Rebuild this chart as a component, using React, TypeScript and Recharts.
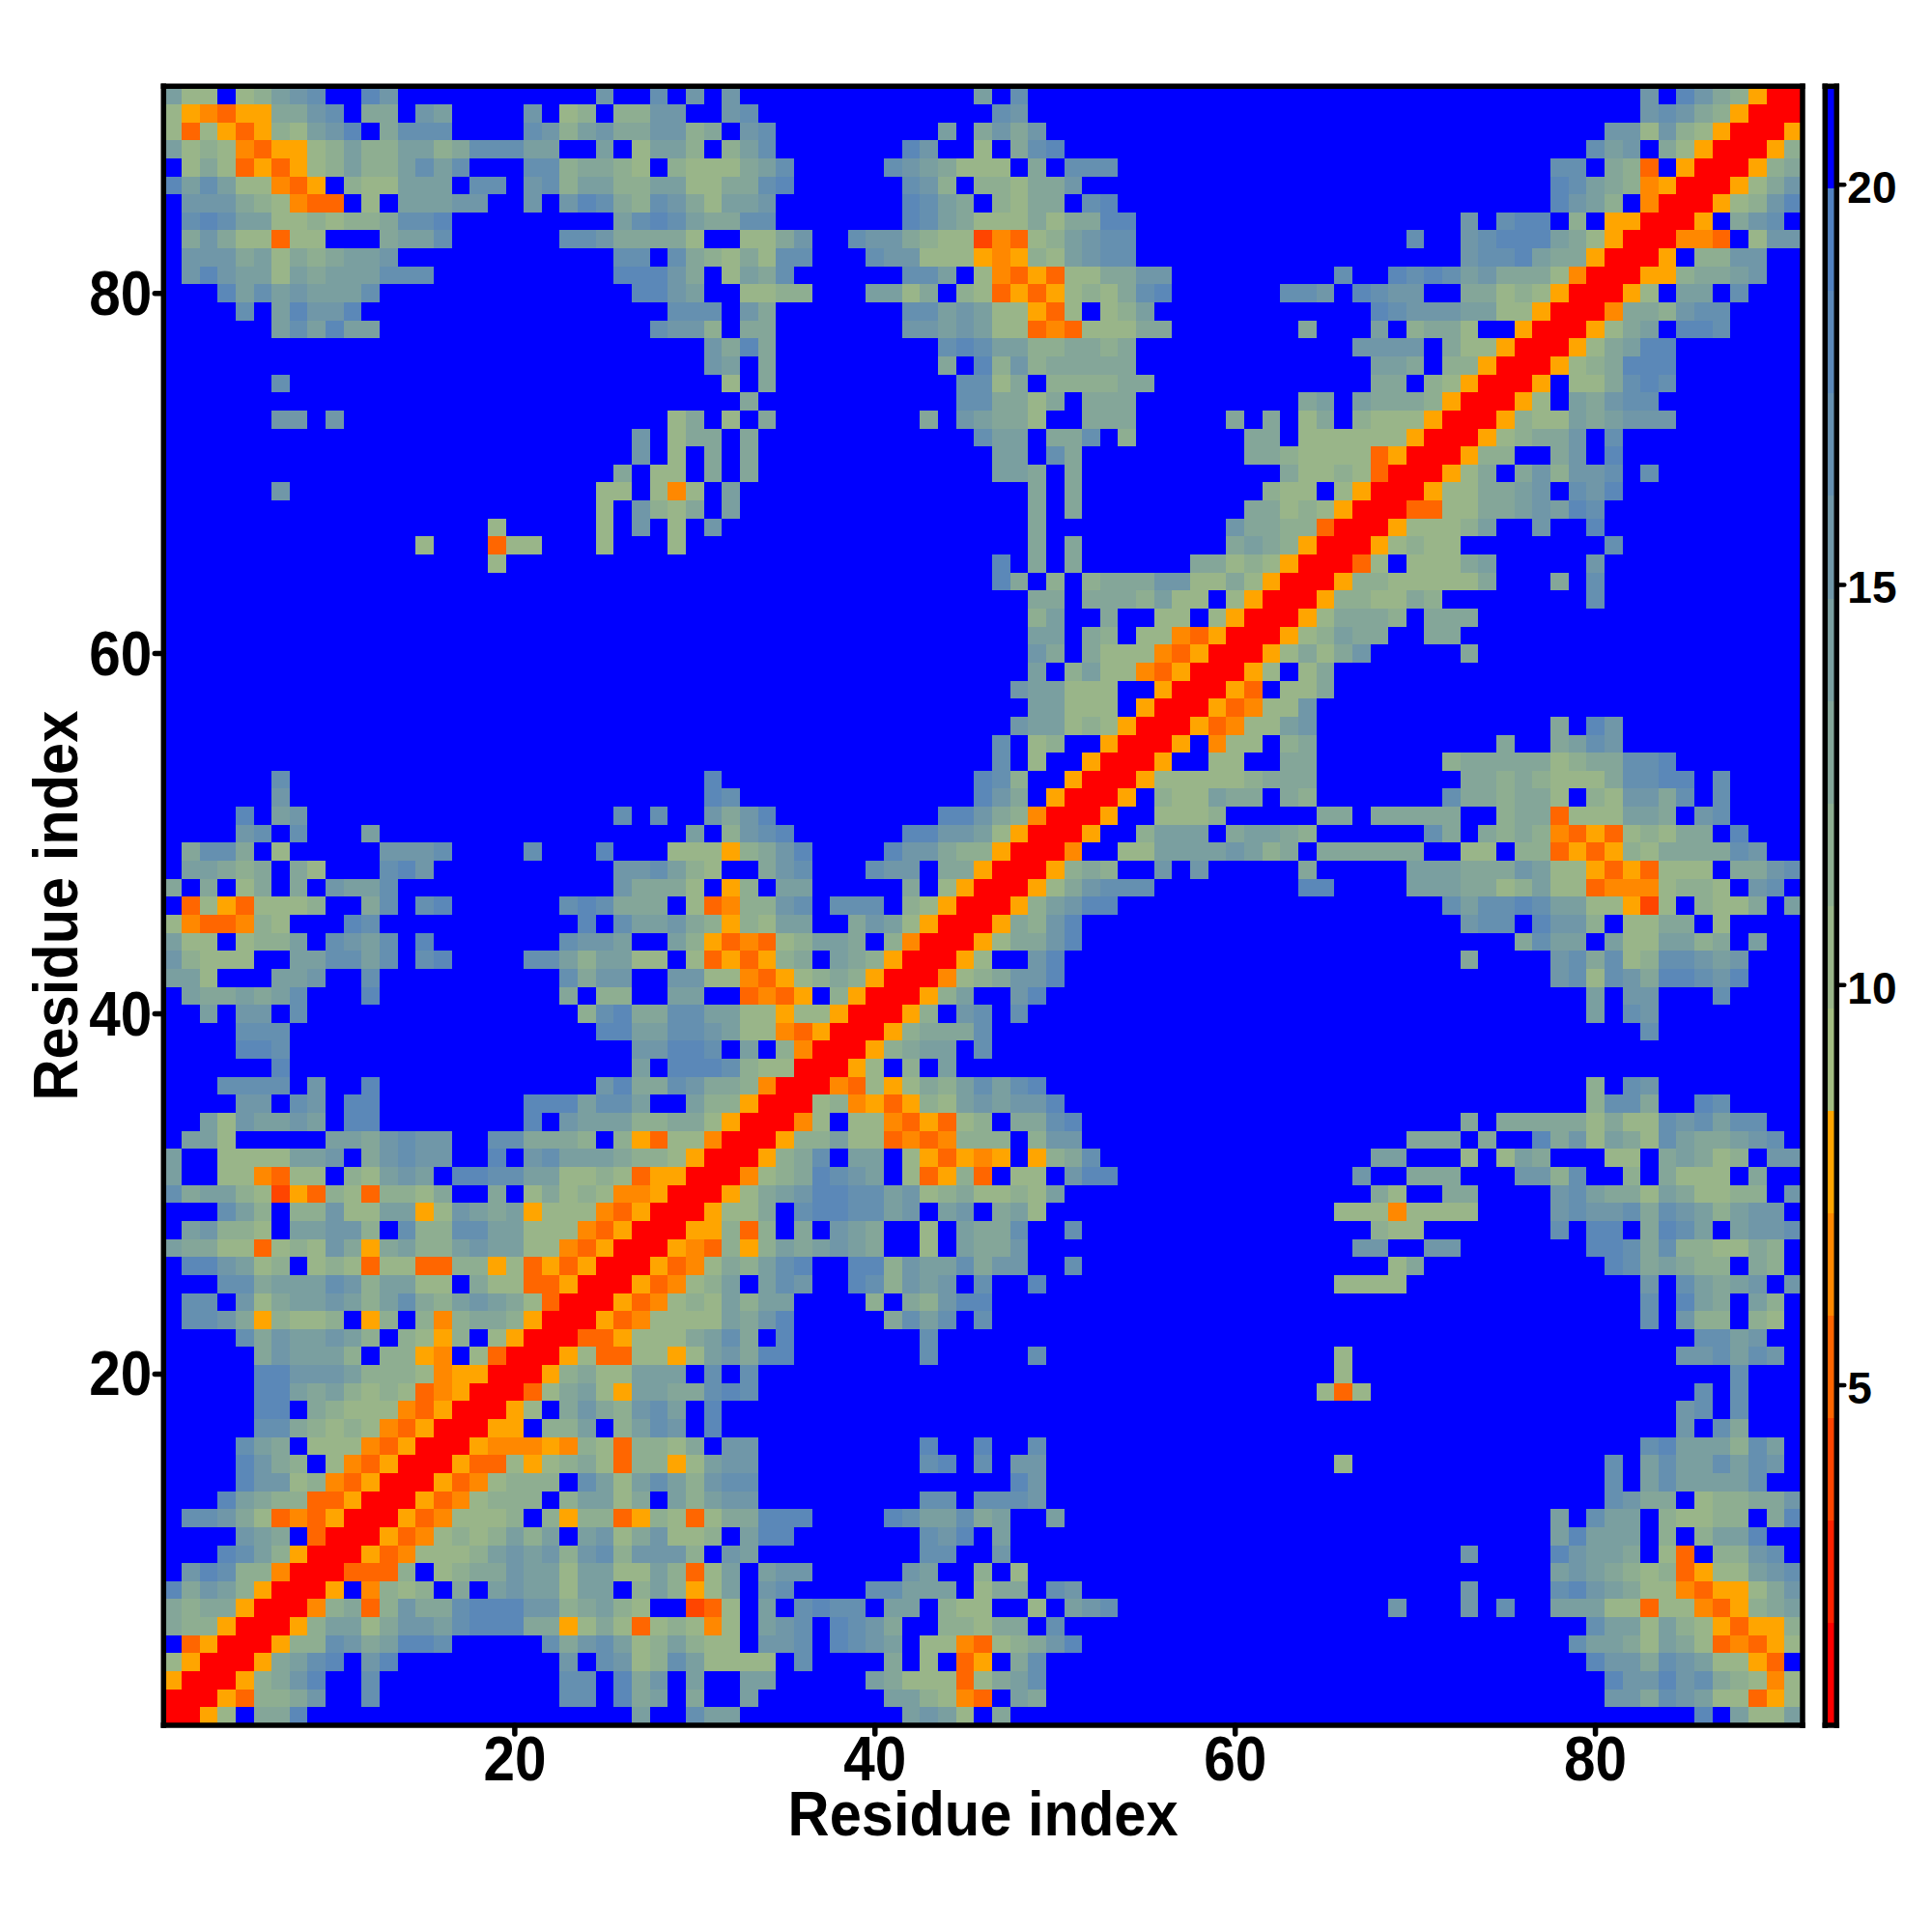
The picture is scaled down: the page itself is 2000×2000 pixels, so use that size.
import { ScatterChart, Scatter, XAxis, YAxis } from 'recharts';

// Residue-residue distance map, 91 x 91, symmetric.
// One string per residue (row 1 first), holding columns 1..row. Each char is the
// colour band of the cell: 0-e are bands, "." is the top band, [n] is a run of n "." cells.
const distanceRows = [
  '0',
  '00',
  '500',
  '7500',
  '.3500',
  '988500',
  '9899500',
  'd9ba8500',
  '.bdc88400',
  '...dca8500',
  '....ba9.300',
  '.ccb97343500',
  '...da98833500',
  '....dbb7843500',
  '....db98.743500',
  '....ca9.77743500',
  '.....cc9878743500',
  '.....dd.9877743500',
  '.....dda9a878734500',
  '.....ddbbba888745500',
  '.....9baaa8.8854.7300',
  '....c9baaba8.8758.7500',
  '.ccb958778.58.848998500',
  '.cc.b79aaba8ac98aba97300',
  '...cc9aaacb8aa77.97733500',
  '.ddba78.787377338857353500',
  'a99773787b959a88abaa7743500',
  '.ab887.aabb8.c88ccaa77743500',
  '...ca8.88b77aa57ba9a577743500',
  'c9aa872538738879..9.7978744500',
  'a..774377.87aba.ddccaa778735500',
  'a..7777aab.9bcbb..d.bcaaa9887500',
  '.aa7.....aa9bcbb..cc9998.85377400',
  '..a7baaba.dd[8]d.baaa88997500',
  '....bb.cb.dd[8]dddacca..a88500',
  '...cccc.b..d[12]bd99cb998400',
  '......d[19]a.dddc87700',
  '....ddc[19]bbddc.a.8400',
  '....ccc[17]ddaaccba7743500',
  '..a.bb.c[15]8cd99ccaa77577500',
  '.a99a9ac...d[10]9.88..aa..3435.8500',
  'aa7...aab..c[10]c9bb..bb774357898500',
  'b8777..aaccac.cd....cca8aa77.7353589.a98500',
  'a77.788a.cbac.d[7]cbba..a8534378aa9.8400',
  '7433487...dc[11]d.caab98587aa..9ba7500',
  '.37537778..9c.cd[6]cdc999.73488bc.ccc.87500',
  '9.9.79.9.baac[12]b9997.58.aa[5]9.7500',
  '.aa989.97...cdb[10]bbca87..9bc...cbb.99500',
  '.9cc9.7.....bbbc....c...d...777589bd....dbb988500',
  '....bc.c...a[17]a.8bcd[6]ddbba7500',
  '....d.ab[17]c.c..b9bd[9]ddb98400',
  '......b[23]dc[13]db9.500',
  '......c[23]d[14]dc8..500',
  '[46]c.7..500',
  '[46]c.78..500',
  '[47]baa787500',
  '[48]aa777.500',
  '[47]baa777..500',
  '[48]a.8a7743500',
  '[48]b9.977743500',
  '[48]aa.98.7743500',
  '[48]8a..9..77.7500',
  '[48]99.9998a77.7500',
  '[46]d9.8.8999bb7797500',
  '[18]7[27]d.9.9[6]99787500',
  '[14]7...377...7...7[19]9.9[8]9a98500',
  '[18]7[5]7.b.7.b[17]9[10]b9988300',
  '[24]7.b879.a[16]9.9[9]99787500',
  '[6]b[17]77.747.a[16]9.9[10]877.7500',
  '[25]9.77.9.9[13]aa9.9[11]97787300',
  '[26]b.7.9.9[13]aa.c9[9]99877773500',
  '[26]b.799.9[12]caa.99c.8[6]99.777777500',
  '[6]bb.b[18]79.7.9[8]9.ba997..999[5]9.9.79.8777500',
  '[32]9[11]cc9979.999[9]9a.a9998500',
  '[6]c[24]7.9[10]cc79.888899[12]99.87500',
  '[30]ba.9[9]9.d8b899999[13]aa9.88500',
  '[30]b9d9[9]cdcaa889989[12]bbbb.977500',
  '[6]acadaa[15]cbb8.99[7]bbaba7734377799[7]9...a.8997..500',
  '....c.adbbd[17]ccc.b9[7]ccaba77537.78a[12]dcbbbaa77500',
  '...dacabaaac[14]ddba..7788...aa79.8735357879cd[6]ccb.dcbb..99787500',
  '.bdbaa7a9aaaccc[10]dddb9.7a9c[6]cca.743537799bb[9]c..dcdcab9997400',
  '.bbb9a7989aab[12]cc.c98797cc...cbb77754587abcc[18]bccda99500',
  '.9b977377...9aac[6]ccb99997..779b..cbb987724378abcc[15]c..bcddda97500',
  '.cdcaa7787889ccd[9]acdca99cc[7]dca97779799dd[18]b.cdd.8.5500',
  '.bbb987433.7.aaabb..b.bdc98cb97aab[7]dca9.8799.cd[24]dba8.400',
  'daca77435.877aaa.cc.bc8aa88aa7799cd[6]cb8.88799b[26]dca984500',
  '.797353578a88acac...cc89987.87779ac[5]cba9777.9.ccc[24]cc.983.500',
  'a787435578a88aa89cccaa..a.7aa8.8ac[7]db..7.9cd[29]cab.97500',
  '73753587abd.9ccc....cb8ab99bb89.bc[9]a.9b9b[31]bb7b87500',
  '75435599bc.99.ba....b.78.88bb..bc[13]cb[34]bcb98500',
  'a77.78abc..db[11]b..c.b.b[13]a.c[34]b.db98500',
];

// Centre of each colour band, in distance units, and the colour of the band.
const bandCentres = [1.39, 2.67, 3.95, 5.23, 6.51, 7.79, 9.07, 10.35, 11.63, 12.91, 14.19, 15.47, 16.75, 18.03, 19.31, 20.59];
const bandColors = [
  '#ff0000', '#ff2200', '#ff4500', '#ff6600', '#ff8800', '#ffa500',
  '#a3bd81', '#99b589', '#8eae91', '#84a699', '#7a9fa0', '#7097a8', '#6590b0', '#5b88b8', '#5181c0',
  '#0000ff',
];
const residueTicks = [20, 40, 60, 80];
const colorbarTicks = [5, 10, 15, 20];
const axisTitle = 'Residue index';

const RESIDUES = 91;
const PLOT_SIZE = 1696.7;
const CELL = PLOT_SIZE / RESIDUES;
const BAND_HEIGHT = PLOT_SIZE / bandCentres.length;
const BAR_WIDTH = 12;

const expandRow = (row: string) => row.replace(/\[(\d+)\]/g, (_, n) => '.'.repeat(Number(n)));

const bandOf = (ch: string) => (ch === '.' ? 15 : parseInt(ch, 16));

const buildCells = () => {
  const bands: number[][] = [];
  for (let i = 0; i < RESIDUES; i++) bands.push(new Array(RESIDUES).fill(15));
  distanceRows.forEach((row, y) => {
    expandRow(row).split('').forEach((ch, x) => {
      bands[y][x] = bandOf(ch);
      bands[x][y] = bandOf(ch);
    });
  });
  const cells: { x: number; y: number; band: number }[] = [];
  bands.forEach((r, y) => r.forEach((band, x) => cells.push({ x: x + 1, y: y + 1, band })));
  return cells;
};

const cells = buildCells();
const barBands = bandCentres.map((y, band) => ({ x: 0.5, y, band }));
const anchorPoint = [{ x: 1, y: 1 }];

const CellShape = (props: any) => (
  <rect
    x={props.cx - CELL / 2}
    y={props.cy - CELL / 2}
    width={CELL}
    height={CELL}
    fill={bandColors[props.payload.band]}
    shapeRendering="crispEdges"
  />
);

const BandShape = (props: any) => (
  <rect
    x={props.cx - BAR_WIDTH / 2}
    y={props.cy - BAND_HEIGHT / 2}
    width={BAR_WIDTH}
    height={BAND_HEIGHT}
    fill={bandColors[props.payload.band]}
    shapeRendering="crispEdges"
  />
);

const NoShape = () => <g />;

const font = { fontWeight: 700, fontFamily: 'Liberation Sans', fill: '#000' };
const frame = { stroke: '#000', strokeWidth: 5.5, strokeLinecap: 'square' as const };
const tickMark = { stroke: '#000', strokeWidth: 5.5, strokeLinecap: 'round' as const };

// the big labels are narrower than the font, so they get a fixed length
const BottomTick = ({ x, y, payload }: any) => (
  <text x={x} y={y + 45} textAnchor="middle" fontSize={64} textLength={65} lengthAdjust="spacingAndGlyphs" {...font}>
    {payload.value}
  </text>
);
const LeftTick = ({ x, y, payload }: any) => (
  <text x={x} y={y + 22} textAnchor="end" fontSize={64} textLength={65} lengthAdjust="spacingAndGlyphs" {...font}>
    {payload.value}
  </text>
);
const BarTick = ({ x, y, payload }: any) => (
  <text x={x} y={y + 19} textAnchor="start" fontSize={46} {...font}>
    {payload.value}
  </text>
);

const mapMargin = { left: 169.3, top: 89.3, right: 134, bottom: 214 };
const axisMapMargin = { left: 168.3, top: 88.3, right: 133, bottom: 213 };
const barMargin = { left: 1889.3, top: 89.3, right: 98.7, bottom: 214 };
const axisBarMargin = { left: 1888.3, top: 88.3, right: 97.7, bottom: 213 };

const residueDomain: [number, number] = [0.5, RESIDUES + 0.5];
const barDomain: [number, number] = [0.75, 21.23];
const unitDomain: [number, number] = [0, 1];

const MapCells = () => (
  <ScatterChart width={2000} height={2000} margin={mapMargin}>
    <XAxis type="number" dataKey="x" domain={residueDomain} hide allowDataOverflow />
    <YAxis type="number" dataKey="y" domain={residueDomain} hide allowDataOverflow />
    <Scatter data={cells} shape={CellShape} isAnimationActive={false} />
  </ScatterChart>
);

const MapFrame = () => (
  <ScatterChart width={2000} height={2000} margin={axisMapMargin}>
    <XAxis xAxisId="b" type="number" dataKey="x" domain={residueDomain} ticks={residueTicks} height={1} tickSize={9}
      tickMargin={3} tick={BottomTick} tickLine={tickMark} axisLine={frame} allowDataOverflow />
    <XAxis xAxisId="t" type="number" dataKey="x" orientation="top" domain={residueDomain} ticks={residueTicks} height={1} tickSize={9}
      tick={false} tickLine={tickMark} axisLine={frame} allowDataOverflow />
    <YAxis yAxisId="l" type="number" dataKey="y" domain={residueDomain} ticks={residueTicks} width={1} tickSize={9}
      tickMargin={3} tick={LeftTick} tickLine={tickMark} axisLine={frame} allowDataOverflow />
    <YAxis yAxisId="r" type="number" dataKey="y" orientation="right" domain={residueDomain} ticks={residueTicks} width={1} tickSize={9}
      tick={false} tickLine={tickMark} axisLine={frame} allowDataOverflow />
    <Scatter xAxisId="b" yAxisId="l" data={anchorPoint} shape={NoShape} isAnimationActive={false} />
    <Scatter xAxisId="t" yAxisId="r" data={anchorPoint} shape={NoShape} isAnimationActive={false} />
    <text x={1017.6} y={1900} textAnchor="middle" fontSize={64} textLength={404} lengthAdjust="spacingAndGlyphs" {...font}>
      {axisTitle}
    </text>
    <text transform="translate(80 937.6) rotate(-90)" textAnchor="middle" fontSize={64} textLength={404} lengthAdjust="spacingAndGlyphs" {...font}>
      {axisTitle}
    </text>
  </ScatterChart>
);

const BarBands = () => (
  <ScatterChart width={2000} height={2000} margin={barMargin}>
    <XAxis type="number" dataKey="x" domain={unitDomain} hide allowDataOverflow />
    <YAxis type="number" dataKey="y" domain={barDomain} hide allowDataOverflow />
    <Scatter data={barBands} shape={BandShape} isAnimationActive={false} />
  </ScatterChart>
);

const BarFrame = () => (
  <ScatterChart width={2000} height={2000} margin={axisBarMargin}>
    <XAxis xAxisId="b" type="number" dataKey="x" domain={unitDomain} ticks={[0, 1]} height={1} tick={false} tickLine={false} axisLine={frame} allowDataOverflow />
    <XAxis xAxisId="t" type="number" dataKey="x" orientation="top" domain={unitDomain} ticks={[0, 1]} height={1} tick={false} tickLine={false} axisLine={frame} allowDataOverflow />
    <YAxis yAxisId="l" type="number" dataKey="y" domain={barDomain} ticks={colorbarTicks} width={1} tick={false} tickLine={false} axisLine={frame} allowDataOverflow />
    <YAxis yAxisId="r" type="number" dataKey="y" orientation="right" domain={barDomain} ticks={colorbarTicks} width={1}
      tickSize={8} tickMargin={3} tick={BarTick} tickLine={{ ...tickMark, strokeWidth: 4.5 }} axisLine={frame} allowDataOverflow />
    <Scatter xAxisId="b" yAxisId="l" data={barBands} shape={NoShape} isAnimationActive={false} />
    <Scatter xAxisId="t" yAxisId="r" data={barBands} shape={NoShape} isAnimationActive={false} />
  </ScatterChart>
);

const layer = { position: 'absolute' as const, left: 0, top: 0 };

export default function App() {
  return (
    <div style={{ ...layer, width: 2000, height: 2000, background: '#fff' }}>
      <div style={layer}><MapCells /></div>
      <div style={layer}><BarBands /></div>
      <div style={layer}><MapFrame /></div>
      <div style={layer}><BarFrame /></div>
    </div>
  );
}
